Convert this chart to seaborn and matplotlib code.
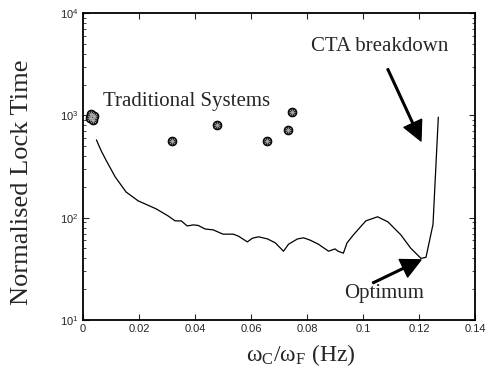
import matplotlib
matplotlib.use("Agg")
import matplotlib.pyplot as plt
import seaborn as sns
import pandas as pd
from matplotlib.ticker import LogLocator, NullFormatter

# ---- data ----
line_x = [0.0048, 0.0065, 0.0082, 0.0115, 0.0154, 0.0197, 0.0261, 0.0304, 0.0329, 0.0351,
          0.0372, 0.0394, 0.0411, 0.0436, 0.0465, 0.0500, 0.0537, 0.0555, 0.0587, 0.0605,
          0.0627, 0.0659, 0.0687, 0.0716, 0.0734, 0.0766, 0.0788, 0.0810, 0.0841, 0.0877,
          0.0900, 0.0911, 0.0930, 0.0943, 0.0966, 0.1010, 0.1052, 0.1089, 0.1135, 0.1170,
          0.1207, 0.1225, 0.1250, 0.1269]
line_y = [575, 450, 366, 250, 178, 146, 122, 104, 93, 93,
          83, 85, 84, 77.5, 76, 69, 69, 66, 58, 63,
          65, 62, 56.7, 47, 55, 62, 63.5, 60.5, 55, 47,
          49.5, 47, 45, 56.7, 68, 93, 102, 91, 68, 50.5,
          40, 41, 86, 960]

trad_x = [0.0025, 0.0030, 0.0035, 0.0040, 0.0318, 0.0479, 0.0657, 0.0732, 0.0746]
trad_y = [950, 1020, 900, 980, 563, 805, 563, 720, 1079]

x_ticks = [0, 0.02, 0.04, 0.06, 0.08, 0.1, 0.12, 0.14]
x_tick_labels = ["0", "0.02", "0.04", "0.06", "0.08", "0.1", "0.12", "0.14"]

sns.set_style("ticks")
plt.rcParams["font.family"] = ["Liberation Sans", "DejaVu Sans"]
plt.rcParams["mathtext.default"] = "regular"

fig = plt.figure(figsize=(4.89, 3.69), dpi=100)
ax = fig.add_axes([83/489, 1-320/369, 392/489, 307/369])

df_line = pd.DataFrame({"x": line_x, "y": line_y})
df_trad = pd.DataFrame({"x": trad_x, "y": trad_y})

sns.lineplot(data=df_line, x="x", y="y", ax=ax, color="black", lw=0.9, sort=False)
sns.scatterplot(data=df_trad, x="x", y="y", ax=ax, marker="o", s=38,
                facecolor="#222222", edgecolor="black", linewidth=0.8, zorder=3)
sns.scatterplot(data=df_trad, x="x", y="y", ax=ax, marker="x", s=14,
                color="#bbbbbb", linewidth=0.5, zorder=4)
sns.scatterplot(data=df_trad, x="x", y="y", ax=ax, marker="+", s=18,
                color="#bbbbbb", linewidth=0.5, zorder=5)

ax.set_yscale("log")
ax.set_xlim(0, 0.14)
ax.set_ylim(10, 1e4)
ax.set_xticks(x_ticks)
ax.set_xticklabels(x_tick_labels)
ax.yaxis.set_major_locator(LogLocator(base=10, numticks=10))
ax.yaxis.set_minor_locator(LogLocator(base=10, subs=range(2, 10), numticks=10))
ax.yaxis.set_minor_formatter(NullFormatter())

ax.tick_params(which="both", direction="in", top=True, right=True, labelsize=8, pad=3)
ax.tick_params(which="major", length=4, width=0.8)
ax.tick_params(which="minor", length=2.5, width=0.6)
for s in ax.spines.values():
    s.set_linewidth(1.3)
    s.set_color("black")

serif = ["Liberation Serif", "DejaVu Serif"]
ax.set_xlabel("ω$_{C}$/ω$_{F}$ (Hz)", fontsize=17, family=serif)
ax.set_ylabel("Normalised Lock Time", fontsize=19, family=serif)
ax.xaxis.set_label_coords(0.556, -0.115)
ax.xaxis.label.set_va("center")
ax.yaxis.set_label_coords(-0.156, 0.45)
ax.yaxis.label.set_va("center")

ax.text(0.00716, 1236, "Traditional Systems", fontsize=15, family=serif, ha="left", va="baseline")
ax.text(0.0816, 4265, "CTA breakdown", fontsize=15, family=serif, ha="left", va="baseline")
ax.text(0.0931, 16.4, "Optimum", fontsize=15, family=serif, ha="left", va="baseline")

ax.annotate("", xy=(0.1207, 562), xytext=(0.1088, 2845),
            arrowprops=dict(facecolor="black", edgecolor="black", width=1.2,
                            headwidth=14, headlength=14, shrink=0))
ax.annotate("", xy=(0.1207, 38.7), xytext=(0.1035, 23),
            arrowprops=dict(facecolor="black", edgecolor="black", width=1.2,
                            headwidth=14, headlength=14, shrink=0))

fig.savefig("out.png", dpi=100)
